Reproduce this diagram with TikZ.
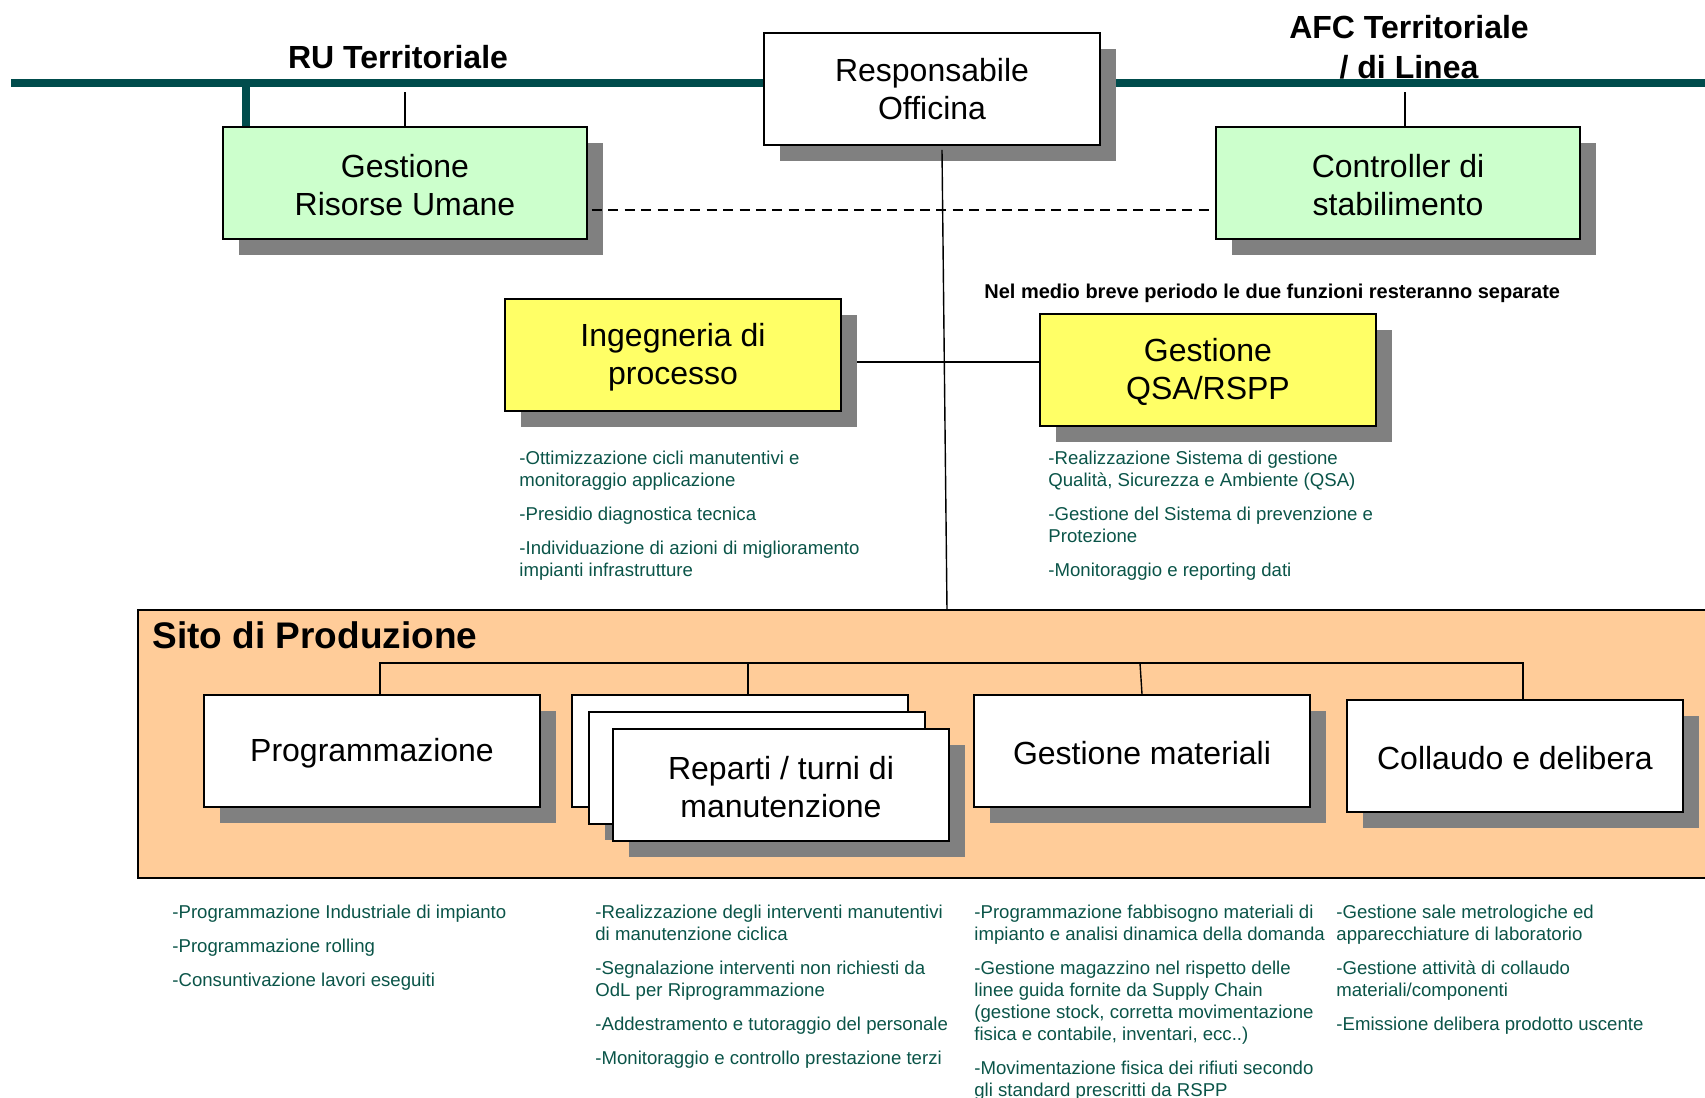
\documentclass[tikz,border=0pt]{standalone}
\usepackage{fontspec}
\setmainfont{Liberation Sans}
\usepackage{tikz}
\usetikzlibrary{shadows}   %drop shadows behind the boxes.

\definecolor{tealline}{RGB}{0,76,76}
\definecolor{notegreen}{RGB}{10,84,72}
\definecolor{hrgreen}{RGB}{204,255,204}
\definecolor{ingyellow}{RGB}{255,255,102}
\definecolor{sitoorange}{RGB}{255,204,153}
\definecolor{shadowgray}{RGB}{128,128,128}

\newcommand{\boxstrut}{\rule{0pt}{14pt}}

\pgfdeclarelayer{bottom}
\pgfdeclarelayer{wires}
\pgfsetlayers{bottom,wires,main}

\begin{document}
\begin{tikzpicture}[x=0.5pt,y=-0.5pt,
  box/.style={draw,line width=0.9pt,fill=white,minimum width=168pt,minimum height=56pt,
    align=center,inner sep=2pt,font=\fontsize{16}{19}\selectfont,
    drop shadow={shadow xshift=7.8pt,shadow yshift=-7.8pt,fill=shadowgray,opacity=1}},
  widebox/.style={box,minimum width=182pt},
  notes/.style={anchor=north west,inner sep=0pt,align=left,text=notegreen,
    font=\fontsize{9.3}{11}\selectfont},
  head/.style={font=\fontsize{16}{20}\selectfont\bfseries,align=center,inner sep=0pt},
  wire/.style={line width=0.7pt},
  dashline/.style={line width=0.7pt,dash pattern=on 5pt off 3.2pt}]

\useasboundingbox (0,0) rectangle (1705,1098);
\clip (0,0) rectangle (1705,1098);

% Top row
\node[box] (resp) at (932,89) {Responsabile\\Officina};
\node[widebox,fill=hrgreen] (hr) at (405,183) {\boxstrut Gestione\\Risorse Umane};
\node[widebox,fill=hrgreen] (ctrl) at (1398,183) {\boxstrut Controller di\\stabilimento};

\node[head] (ru) at (398,57) {RU Territoriale};
\node[head] (afc) at (1409,47) {AFC Territoriale\\/ di Linea};

\coordinate (lineL) at (11,83);
\coordinate (lineR) at (1705,83);
\coordinate (hrstub) at (246,83);
\coordinate (hrtap) at (405,92);
\coordinate (ctrltap) at (1405,92);

% Second row
\node[box,fill=ingyellow] (ing) at (673,355) {\boxstrut Ingegneria di\\processo};
\node[box,fill=ingyellow] (qsa) at (1208,370) {\boxstrut Gestione\\QSA/RSPP};
\node[anchor=west,inner sep=0pt,font=\fontsize{10}{12}\selectfont\bfseries] (nota) at (984,293)
  {Nel medio breve periodo le due funzioni resteranno separate};

\node[notes] (ingnote) at (519,451) {-Ottimizzazione cicli manutentivi e\\monitoraggio applicazione\\[6pt]
  -Presidio diagnostica tecnica\\[6pt]
  -Individuazione di azioni di miglioramento\\impianti infrastrutture};
\node[notes] (qsanote) at (1048,451) {-Realizzazione Sistema di gestione\\Qualità, Sicurezza e Ambiente (QSA)\\[6pt]
  -Gestione del Sistema di prevenzione e\\Protezione\\[6pt]
  -Monitoraggio e reporting dati};

% Sito di Produzione
\begin{pgfonlayer}{bottom}
\draw[line width=0.9pt,fill=sitoorange] (138,610) rectangle (1730,878);
\end{pgfonlayer}
\coordinate (sitoin) at (947,610);
\node[anchor=west,inner sep=0pt,font=\fontsize{18.5}{22}\selectfont\bfseries] (sito) at (152,635) {Sito di Produzione};

\node[box] (prog) at (372,751) {\boxstrut Programmazione};
\node[box] (card1) at (740,751) {};
\node[box] (card2) at (757,768) {};
\node[box] (rep) at (781,785) {\boxstrut Reparti / turni di\\manutenzione};
\node[box] (gm) at (1142,751) {\boxstrut Gestione materiali};
\node[box] (coll) at (1515,756) {\boxstrut Collaudo e delibera};

\coordinate (bus) at (0,663);

\node[notes] (prognote) at (172,905) {-Programmazione Industriale di impianto\\[6pt]
  -Programmazione rolling\\[6pt]
  -Consuntivazione lavori eseguiti};
\node[notes] (repnote) at (595,905) {-Realizzazione degli interventi manutentivi\\di manutenzione ciclica\\[6pt]
  -Segnalazione interventi non richiesti da\\OdL per Riprogrammazione\\[6pt]
  -Addestramento e tutoraggio del personale\\[6pt]
  -Monitoraggio e controllo prestazione terzi};
\node[notes] (gmnote) at (974,905) {-Programmazione fabbisogno materiali di\\impianto e analisi dinamica della domanda\\[6pt]
  -Gestione magazzino nel rispetto delle\\linee guida fornite da Supply Chain\\(gestione stock, corretta movimentazione\\fisica e contabile, inventari, ecc..)\\[6pt]
  -Movimentazione fisica dei rifiuti secondo\\gli standard prescritti da RSPP};
\node[notes] (collnote) at (1336,905) {-Gestione sale metrologiche ed\\apparecchiature di laboratorio\\[6pt]
  -Gestione attività di collaudo\\materiali/componenti\\[6pt]
  -Emissione delibera prodotto uscente};

% Draw the connectors behind the boxes.
\begin{pgfonlayer}{wires}
\draw[color=tealline,line width=3.8pt] (lineL) -- (resp.west |- lineL);
\draw[color=tealline,line width=3.8pt] (resp.east |- lineR) -- (lineR);
\draw[color=tealline,line width=3.8pt] (hrstub) -- (hrstub |- hr.north);
\draw[wire] (hrtap) -- (hrtap |- hr.north);
\draw[wire] (ctrltap) -- (ctrltap |- ctrl.north);
\draw[wire] (ing.east |- 0,362) -- (qsa.west |- 0,362);

\draw[wire] ([xshift=4pt]prog.north) -- ([xshift=4pt]prog.north |- bus) -- ([xshift=4pt]coll.north |- bus) -- ([xshift=4pt]coll.north);
\draw[wire] ([xshift=4pt]card1.north) -- ([xshift=4pt]card1.north |- bus);
\draw[wire] ([xshift=-1pt]gm.north |- bus) -- (gm.north);
\end{pgfonlayer}

% these two run over the shadows
\draw[dashline] ([xshift=2pt]hr.east |- 0,210) -- (ctrl.west |- 0,210);
\draw[wire] ([xshift=5pt,yshift=-2pt]resp.south) -- (sitoin);

\end{tikzpicture}
\end{document}
